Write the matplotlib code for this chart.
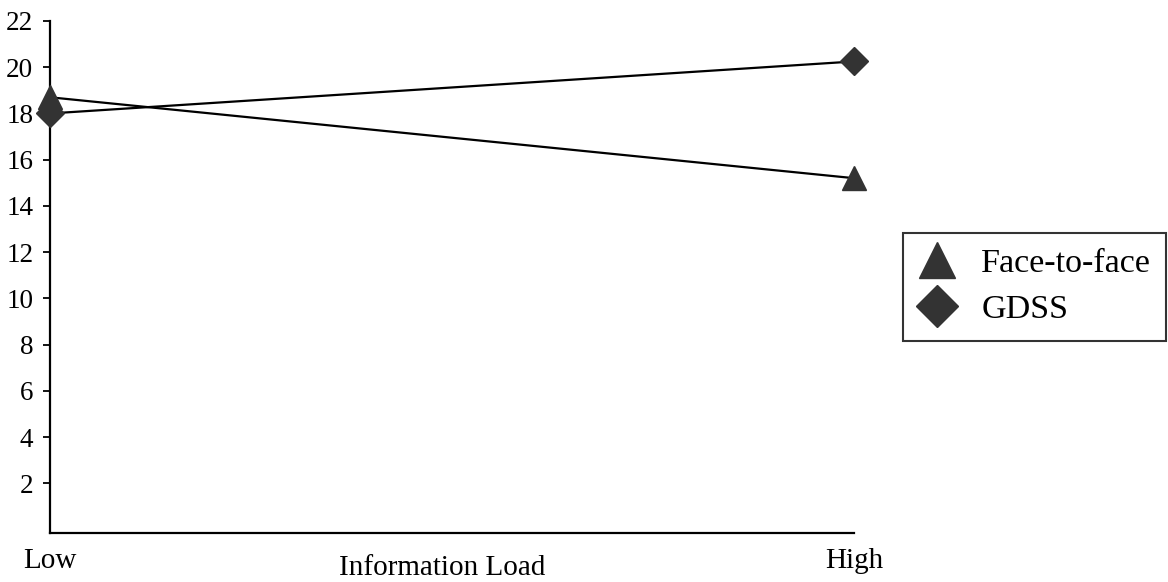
import matplotlib
matplotlib.use("Agg")
import matplotlib.pyplot as plt
from matplotlib.lines import Line2D

plt.rcParams['font.family'] = ['Liberation Serif', 'DejaVu Serif']

categories = ["Low", "High"]
face_to_face = [18.7, 15.2]
gdss = [18.0, 20.25]
y_ticks = [2, 4, 6, 8, 10, 12, 14, 16, 18, 20, 22]

W, H = 1168, 582
fig = plt.figure(figsize=(W / 100, H / 100), dpi=100)
ax = fig.add_axes([50 / W, 1 - 533 / H, (854 - 50) / W, (533 - 21) / H])

x = list(range(len(categories)))
ax.plot(x, face_to_face, color='black', lw=1.6, marker='^', markersize=17,
        markerfacecolor='#333333', markeredgecolor='#333333', clip_on=False, zorder=3)
ax.plot(x, gdss, color='black', lw=1.6, marker='D', markersize=14,
        markerfacecolor='#333333', markeredgecolor='#333333', clip_on=False, zorder=3)

ax.set_xlim(0, 1)
ax.set_ylim(-0.15, 22)
ax.set_yticks(y_ticks)
ax.set_yticklabels([str(t) for t in y_ticks], fontsize=19.5)
ax.set_xticks([])
ax.tick_params(axis='y', direction='out', length=5, width=1.3, pad=7)
for s in ['top', 'right']:
    ax.spines[s].set_visible(False)
for s in ['left', 'bottom']:
    ax.spines[s].set_linewidth(1.6)

# category labels below the axis, baselines at the reference pixel rows
label_baselines = [568, 568]
for xi, lab, yb in zip(x, categories, label_baselines):
    ax.annotate(lab, xy=(xi, 0), xycoords=('data', 'figure fraction'),
                xytext=(0, (H - yb)), textcoords='offset pixels',
                ha='center', va='baseline', fontsize=21)
fig.text(442 / W, 1 - 575 / H, "Information Load", ha='center', va='baseline', fontsize=21)

handles = [
    Line2D([], [], linestyle='none', marker='^', markersize=26,
           markerfacecolor='#333333', markeredgecolor='#333333'),
    Line2D([], [], linestyle='none', marker='D', markersize=21,
           markerfacecolor='#333333', markeredgecolor='#333333'),
]
leg = fig.legend(handles, ["Face-to-face", "GDSS"], loc='upper left',
                 bbox_to_anchor=(903 / W, 1 - 233 / H), bbox_transform=fig.transFigure,
                 fontsize=24.5, frameon=True, fancybox=False, borderaxespad=0,
                 handlelength=1.1, handletextpad=0.75, labelspacing=0.45,
                 borderpad=0.45)
leg.get_frame().set_edgecolor('black')
leg.get_frame().set_linewidth(1.5)

fig.savefig("out.png", dpi=100)
